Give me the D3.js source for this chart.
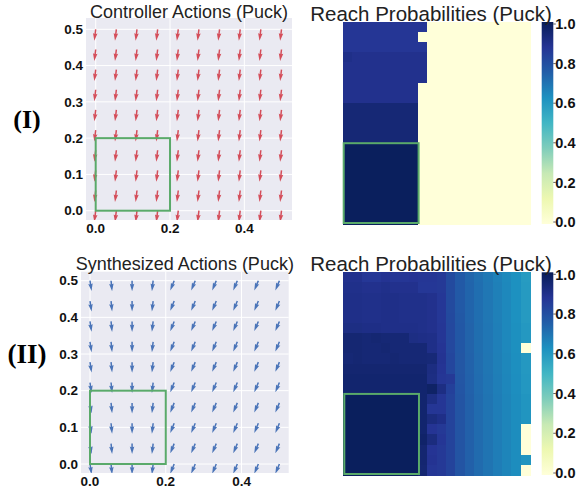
<!doctype html>
<html>
<head>
<meta charset="utf-8">
<title>Puck actions and reach probabilities</title>
<script src="https://cdn.jsdelivr.net/npm/d3@7"></script>
<style>
  html, body { margin: 0; padding: 0; background: #fff; }
  svg { display: block; }
  .tick-label { font-family: "Liberation Sans", Arial, sans-serif; font-weight: bold; fill: #111; }
  .title { font-family: "Liberation Sans", Arial, sans-serif; fill: #222; }
  .row-label { font-family: "Liberation Serif", "Times New Roman", serif; font-weight: bold; fill: #000; }
  rect.cell { shape-rendering: crispEdges; }
</style>
</head>
<body>
<svg id="chart" width="576" height="491"></svg>
<script>
// ---- data ----
// quiver grid (same for both quiver panels)
var gridX = [0, 0.0556, 0.1111, 0.1667, 0.2222, 0.2778, 0.3333, 0.3889, 0.4444, 0.5];
var gridY = [0, 0.0556, 0.1111, 0.1667, 0.2222, 0.2778, 0.3333, 0.3889, 0.4444, 0.5];

// direction of arrows per column (u = horizontal, v = vertical), same down every column
var controllerU = [-0.12, -0.12, -0.12, -0.12, -0.12, -0.12, -0.12, -0.12, -0.12, -0.12];
var controllerV = [-1, -1, -1, -1, -1, -1, -1, -1, -1, -1];
var synthU = [0.15, 0.1, 0.0, -0.12, -0.4, -0.42, -0.42, -0.42, -0.42, -0.42];
var synthV = [-1, -1, -1, -1, -1, -1, -1, -1, -1, -1];

var xTicks = [0.0, 0.2, 0.4];
var yTicks = [0.0, 0.1, 0.2, 0.3, 0.4, 0.5];
var cbTicks = [0.0, 0.2, 0.4, 0.6, 0.8, 1.0];
var safeBox = [0, 0, 0.2, 0.2]; // x0, y0, x1, y1

// reach probabilities, 20 x 20 cells, rows listed top (y=0.5) to bottom (y=0)
var reachController = [
  [.87,.87,.87,.87,.87,.87,.87,.87,.87,0,0,0,0,0,0,0,0,0,0,0],
  [.87,.87,.87,.87,.87,.87,.87,.87,0,0,0,0,0,0,0,0,0,0,0,0],
  [.87,.87,.87,.87,.87,.87,.87,.87,.87,0,0,0,0,0,0,0,0,0,0,0],
  [.90,.89,.89,.89,.89,.89,.89,.89,.89,0,0,0,0,0,0,0,0,0,0,0],
  [.89,.89,.89,.89,.89,.89,.89,.89,.89,0,0,0,0,0,0,0,0,0,0,0],
  [.89,.89,.89,.89,.89,.89,.89,.89,.89,0,0,0,0,0,0,0,0,0,0,0],
  [.89,.89,.89,.89,.89,.89,.89,.89,0,0,0,0,0,0,0,0,0,0,0,0],
  [.89,.89,.89,.89,.89,.89,.89,.89,0,0,0,0,0,0,0,0,0,0,0,0],
  [.94,.94,.94,.94,.94,.94,.94,.94,0,0,0,0,0,0,0,0,0,0,0,0],
  [.94,.94,.94,.94,.94,.94,.94,.94,0,0,0,0,0,0,0,0,0,0,0,0],
  [.94,.94,.94,.94,.94,.94,.94,.94,0,0,0,0,0,0,0,0,0,0,0,0],
  [.94,.94,.94,.94,.94,.94,.94,.94,0,0,0,0,0,0,0,0,0,0,0,0],
  [.99,.99,.99,.99,.99,.99,.99,.99,0,0,0,0,0,0,0,0,0,0,0,0],
  [.99,.99,.99,.99,.99,.99,.99,.99,0,0,0,0,0,0,0,0,0,0,0,0],
  [.99,.99,.99,.99,.99,.99,.99,.99,0,0,0,0,0,0,0,0,0,0,0,0],
  [.99,.99,.99,.99,.99,.99,.99,.99,0,0,0,0,0,0,0,0,0,0,0,0],
  [.99,.99,.99,.99,.99,.99,.99,.99,0,0,0,0,0,0,0,0,0,0,0,0],
  [.99,.99,.99,.99,.99,.99,.99,.99,0,0,0,0,0,0,0,0,0,0,0,0],
  [.99,.99,.99,.99,.99,.99,.99,.99,0,0,0,0,0,0,0,0,0,0,0,0],
  [.99,.99,.99,.99,.99,.99,.99,.99,0,0,0,0,0,0,0,0,0,0,0,0]
];

var reachSynth = [
  [.89,.89,.865,.865,.88,.87,.87,.875,.87,.87,.86,.81,.765,.733,.708,.686,.664,.645,.625,.59],
  [.895,.895,.89,.89,.895,.89,.89,.89,.865,.865,.86,.81,.765,.735,.71,.688,.666,.646,.626,.595],
  [.90,.90,.895,.895,.90,.90,.895,.895,.895,.89,.865,.81,.765,.735,.71,.688,.666,.646,.626,.595],
  [.90,.90,.895,.895,.90,.90,.895,.895,.895,.89,.865,.81,.765,.735,.71,.688,.666,.646,.626,.595],
  [.90,.90,.895,.895,.90,.90,.895,.895,.895,.89,.865,.812,.767,.736,.71,.688,.666,.646,.626,.595],
  [.91,.91,.905,.905,.90,.90,.90,.90,.895,.89,.87,.815,.77,.738,.712,.69,.668,.648,.628,.60],
  [.945,.945,.94,.945,.94,.94,.94,.91,.905,.90,.87,.815,.77,.738,.712,.69,.668,.648,.628,.60],
  [.945,.945,.94,.94,.945,.94,.94,.94,.94,.90,.875,.815,.77,.738,.712,.69,.668,.648,.628,0],
  [.94,.945,.94,.94,.94,.945,.94,.94,.94,.935,.88,.82,.772,.74,.714,.692,.67,.65,.63,.60],
  [.95,.95,.95,.95,.95,.95,.95,.95,.95,.915,.875,.82,.772,.74,.714,.692,.67,.65,.63,.60],
  [.955,.955,.955,.955,.955,.955,.955,.955,.955,.91,.87,.86,.775,.742,.716,.694,.672,.652,.632,.605],
  [.955,.955,.955,.955,.955,.955,.955,.955,.955,.97,.91,.84,.778,.742,.716,.694,.672,.652,.632,.605],
  [.99,.99,.99,.99,.99,.99,.99,.99,.955,.91,.87,.83,.78,.745,.718,.696,.674,.654,.634,.61],
  [.99,.99,.99,.99,.99,.99,.99,.99,.955,.87,.87,.83,.78,.745,.718,.696,.674,.654,.634,.61],
  [.99,.99,.99,.99,.99,.99,.99,.99,.955,.92,.90,.83,.78,.745,.718,.696,.674,.654,.634,.61],
  [.99,.99,.99,.99,.99,.99,.99,.99,.955,.875,.86,.83,.78,.745,.718,.696,.674,.654,.634,0],
  [.99,.99,.99,.99,.99,.99,.99,.99,.965,.92,.87,.83,.78,.745,.718,.696,.674,.654,.634,0],
  [.99,.99,.99,.99,.99,.99,.99,.99,.95,.875,.86,.83,.78,.745,.718,.696,.674,.654,.634,0],
  [.99,.99,.99,.99,.99,.99,.99,.99,.95,.88,.86,.83,.78,.745,.718,.696,.674,.654,.634,.61],
  [.99,.99,.99,.99,.99,.99,.99,.99,.945,.87,.86,.83,.78,.745,.718,.696,.674,.654,.634,0]
];

// ---- drawing ----
var svg = d3.select("#chart");
var green = "#5aaa6a";

// matplotlib-like YlGnBu: piecewise linear through the 9 ColorBrewer colours
var ylgnbu = d3.scaleLinear()
  .domain(d3.range(9).map(function(i) { return i / 8; }))
  .range(d3.schemeYlGnBu[9])
  .clamp(true);

function quiverPanel(opt) {
  var g = svg.append("g");
  var x = d3.scaleLinear().domain([0, 0.5]).range(opt.xr);
  var y = d3.scaleLinear().domain([0, 0.5]).range(opt.yr);
  var clipId = "clip" + opt.id;

  g.append("clipPath").attr("id", clipId)
    .append("rect")
    .attr("x", opt.box[0]).attr("y", opt.box[1])
    .attr("width", opt.box[2] - opt.box[0]).attr("height", opt.box[3] - opt.box[1]);

  g.append("rect")
    .attr("x", opt.box[0]).attr("y", opt.box[1])
    .attr("width", opt.box[2] - opt.box[0]).attr("height", opt.box[3] - opt.box[1])
    .attr("fill", "#eaeaf2");

  // grid lines
  g.selectAll(".gx").data(xTicks).enter().append("line")
    .attr("x1", function(d) { return x(d); }).attr("x2", function(d) { return x(d); })
    .attr("y1", opt.box[1]).attr("y2", opt.box[3])
    .attr("stroke", "#fff").attr("stroke-width", 1);
  g.selectAll(".gy").data(yTicks).enter().append("line")
    .attr("y1", function(d) { return y(d); }).attr("y2", function(d) { return y(d); })
    .attr("x1", opt.box[0]).attr("x2", opt.box[2])
    .attr("stroke", "#fff").attr("stroke-width", 1);

  // tick labels
  g.selectAll(".tx").data(xTicks).enter().append("text")
    .attr("class", "tick-label")
    .attr("x", function(d) { return x(d); })
    .attr("y", opt.box[3] + 13)
    .attr("text-anchor", "middle")
    .style("font-size", "13.5px")
    .text(function(d) { return d.toFixed(1); });
  g.selectAll(".ty").data(yTicks).enter().append("text")
    .attr("class", "tick-label")
    .attr("x", opt.box[0] - 3)
    .attr("y", function(d) { return y(d); })
    .attr("dy", "0.35em")
    .attr("text-anchor", "end")
    .style("font-size", "13.5px")
    .text(function(d) { return d.toFixed(1); });

  // arrows (tail at the grid point)
  var pts = [];
  gridY.forEach(function(gy) {
    gridX.forEach(function(gx, ci) {
      pts.push({ x: gx, y: gy, u: opt.u[ci], v: opt.v[ci] });
    });
  });
  var L = opt.len, w = 1.5;
  var arrow = [[0, -w / 2], [L - 4.5 * w, -w / 2], [L - 5 * w, -1.5 * w], [L, 0],
               [L - 5 * w, 1.5 * w], [L - 4.5 * w, w / 2], [0, w / 2]];
  g.append("g").attr("clip-path", "url(#" + clipId + ")")
    .selectAll("path").data(pts).enter().append("path")
    .attr("d", "M" + arrow.map(function(p) { return p.join(","); }).join("L") + "Z")
    .attr("fill", opt.color)
    .attr("transform", function(d) {
      var ang = Math.atan2(-d.v, d.u) * 180 / Math.PI;
      return "translate(" + x(d.x) + "," + y(d.y) + ") rotate(" + ang + ")";
    });

  // safe box
  g.append("rect")
    .attr("x", x(safeBox[0])).attr("y", y(safeBox[3]))
    .attr("width", x(safeBox[2]) - x(safeBox[0]))
    .attr("height", y(safeBox[1]) - y(safeBox[3]))
    .attr("fill", "none").attr("stroke", green).attr("stroke-width", 2);

  g.append("text").attr("class", "title")
    .attr("x", (opt.box[0] + opt.box[2]) / 2)
    .attr("y", opt.titleY)
    .attr("text-anchor", "middle")
    .style("font-size", "18px")
    .text(opt.title);
}

function heatPanel(opt) {
  var g = svg.append("g");
  var n = opt.data.length, m = opt.data[0].length;
  var col = d3.scaleBand().domain(d3.range(m)).range([opt.box[0], opt.box[2]]);
  var row = d3.scaleBand().domain(d3.range(n)).range([opt.box[1], opt.box[3]]);
  var cells = [];
  opt.data.forEach(function(r, ri) {
    r.forEach(function(v, ci) { cells.push({ r: ri, c: ci, v: v }); });
  });
  g.selectAll("rect.cell").data(cells).enter().append("rect")
    .attr("class", "cell")
    .attr("x", function(d) { return col(d.c); })
    .attr("y", function(d) { return row(d.r); })
    .attr("width", col.bandwidth() + 0.5)
    .attr("height", row.bandwidth() + 0.5)
    .attr("fill", function(d) { return ylgnbu(d.v); });

  // safe box: covers 0..0.2 of a 0..0.5 grid
  var bx = d3.scaleLinear().domain([0, 0.5]).range([opt.box[0], opt.box[2]]);
  var by = d3.scaleLinear().domain([0, 0.5]).range([opt.box[3], opt.box[1]]);
  g.append("rect")
    .attr("x", bx(safeBox[0]) + 1).attr("y", by(safeBox[3]))
    .attr("width", bx(safeBox[2]) - bx(safeBox[0]))
    .attr("height", by(safeBox[1]) - by(safeBox[3]) - 1)
    .attr("fill", "none").attr("stroke", green).attr("stroke-width", 2);

  // colour bar
  var gradId = "grad" + opt.id;
  var grad = svg.append("defs").append("linearGradient").attr("id", gradId)
    .attr("x1", 0).attr("y1", 1).attr("x2", 0).attr("y2", 0);
  d3.range(0, 1.0001, 0.125).forEach(function(t) {
    grad.append("stop").attr("offset", t).attr("stop-color", ylgnbu(t));
  });
  g.append("rect")
    .attr("x", opt.cb[0]).attr("y", opt.cb[1])
    .attr("width", opt.cb[2] - opt.cb[0]).attr("height", opt.cb[3] - opt.cb[1])
    .attr("fill", "url(#" + gradId + ")");
  var cy = d3.scaleLinear().domain([0, 1]).range([opt.cb[3] - 2, opt.cb[1] + 2]);
  g.selectAll(".cbt").data(cbTicks).enter().append("line")
    .attr("x1", opt.cb[2]).attr("x2", opt.cb[2] + 2.5)
    .attr("y1", function(d) { return cy(d); }).attr("y2", function(d) { return cy(d); })
    .attr("stroke", "#333").attr("stroke-width", 0.8);
  g.selectAll(".cbl").data(cbTicks).enter().append("text")
    .attr("class", "tick-label")
    .attr("x", opt.cb[2] + 2)
    .attr("y", function(d) { return cy(d); })
    .attr("dy", "0.36em")
    .style("font-size", "14.5px")
    .text(function(d) { return d.toFixed(1); });

  g.append("text").attr("class", "title")
    .attr("x", opt.titleX)
    .attr("y", opt.titleY)
    .attr("text-anchor", "middle")
    .style("font-size", "20.5px")
    .text(opt.title);
}

quiverPanel({
  id: "a", box: [86, 18, 292, 220], xr: [95.7, 281.5], yr: [210.7, 29.3],
  u: controllerU, v: controllerV, color: "#d44e5a", len: 11.5,
  title: "Controller Actions (Puck)", titleY: 18.3
});
quiverPanel({
  id: "b", box: [81, 271.7, 288.7, 473], xr: [90, 279.4], yr: [464, 280.7],
  u: synthU, v: synthV, color: "#4a74b8", len: 10.5,
  title: "Synthesized Actions (Puck)", titleY: 270
});
heatPanel({
  id: "c", data: reachController, box: [342.7, 22, 530, 224], cb: [541.7, 22, 553.3, 224],
  title: "Reach Probabilities (Puck)", titleX: 431, titleY: 20.7
});
heatPanel({
  id: "d", data: reachSynth, box: [343.3, 272.3, 530, 475], cb: [541.7, 272.3, 553.3, 475],
  title: "Reach Probabilities (Puck)", titleX: 431, titleY: 271
});

svg.append("text").attr("class", "row-label")
  .attr("x", 27).attr("y", 128.3).attr("text-anchor", "middle")
  .style("font-size", "26px").text("(I)");
svg.append("text").attr("class", "row-label")
  .attr("x", 27).attr("y", 363.3).attr("text-anchor", "middle")
  .style("font-size", "27px").text("(II)");
</script>
</body>
</html>
